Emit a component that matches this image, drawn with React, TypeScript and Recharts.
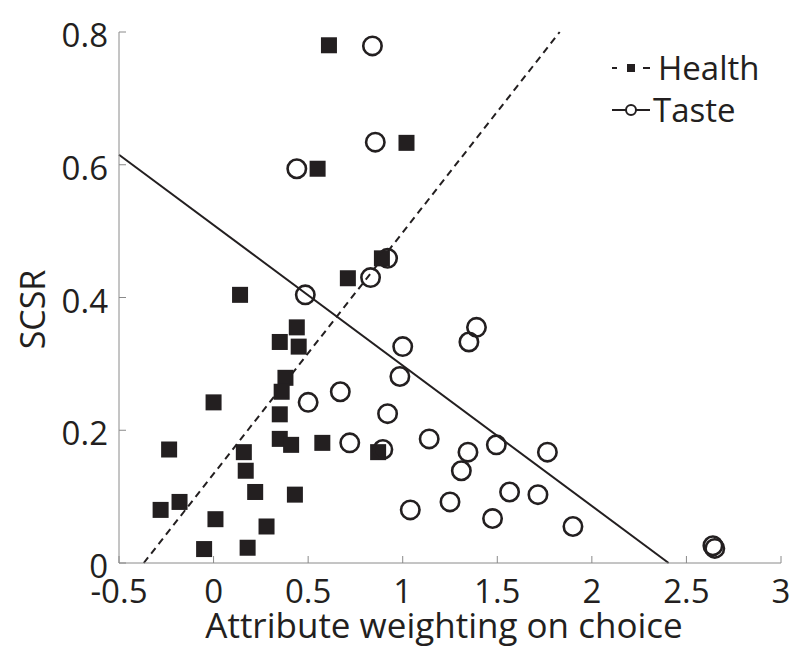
import React from 'react'
import {
  ScatterChart,
  Scatter,
  XAxis,
  YAxis,
  ReferenceLine,
  Legend,
} from 'recharts'

// values
const healthX = [0.61, 0.55, 1.02, 0.89, 0.71, 0.14, 0.44, 0.35, 0.45, 0.38, 0.36, 0.0, 0.35, -0.235, 0.35, 0.41, 0.575, 0.87, 0.16, 0.17, 0.22, 0.43, -0.18, -0.28, 0.01, 0.28, -0.05, 0.18]
const healthY = [0.78, 0.594, 0.633, 0.459, 0.429, 0.404, 0.355, 0.333, 0.326, 0.279, 0.258, 0.242, 0.224, 0.171, 0.187, 0.178, 0.181, 0.167, 0.167, 0.139, 0.107, 0.103, 0.092, 0.08, 0.066, 0.055, 0.021, 0.023]

const tasteX = [0.84, 0.855, 0.44, 0.92, 0.83, 0.485, 1.0, 1.39, 1.35, 0.985, 0.67, 0.5, 0.92, 1.14, 0.72, 0.895, 1.345, 1.495, 1.765, 1.31, 1.565, 1.715, 1.25, 1.04, 1.475, 1.9, 2.64, 2.65]
const tasteY = [0.779, 0.634, 0.594, 0.459, 0.43, 0.404, 0.326, 0.355, 0.333, 0.281, 0.258, 0.242, 0.225, 0.187, 0.181, 0.171, 0.167, 0.178, 0.167, 0.139, 0.107, 0.103, 0.092, 0.08, 0.067, 0.055, 0.026, 0.022]

// fitted lines, endpoints
const healthFitX = [-0.369, 1.83]
const healthFitY = [0, 0.8]
const tasteFitX = [-0.5, 2.406]
const tasteFitY = [0.615, 0]

const xTicks = [-0.5, 0, 0.5, 1, 1.5, 2, 2.5, 3]
const yTicks = [0, 0.2, 0.4, 0.6, 0.8]

const INK = '#231f20'
const AXIS = '#8a8a8a'
const FONT = '"Open Sans", sans-serif'

const healthData = healthX.map((x, i) => ({ x, y: healthY[i] }))
const tasteData = tasteX.map((x, i) => ({ x, y: tasteY[i] }))

const SquareDot = (props: any) => {
  const { cx, cy } = props
  return <rect x={cx - 8} y={cy - 8} width={16} height={16} fill={INK} />
}

const CircleDot = (props: any) => {
  const { cx, cy } = props
  return <circle cx={cx} cy={cy} r={9.2} fill="none" stroke={INK} strokeWidth={2.6} />
}

const XTick = ({ x, y, payload }: any) => (
  <g>
    <line x1={x} x2={x} y1={y} y2={y - 7} stroke={AXIS} />
    <text x={x} y={y + 40} textAnchor="middle" fontSize={33} fontFamily={FONT} fill={INK}>
      {String(payload.value)}
    </text>
  </g>
)

const YTick = ({ x, y, payload }: any) => (
  <g>
    <line x1={x} x2={x + 7} y1={y} y2={y} stroke={AXIS} />
    <text x={x - 11} y={y + 15} textAnchor="end" fontSize={33} fontFamily={FONT} fill={INK}>
      {String(payload.value)}
    </text>
  </g>
)

const YTitle = ({ viewBox }: any) => {
  const x = viewBox.x + 45
  const y = viewBox.y + viewBox.height / 2 + 12
  return (
    <text x={x} y={y} transform={`rotate(-90, ${x}, ${y})`} textAnchor="middle" fontSize={34} fontFamily={FONT} fill={INK}>
      SCSR
    </text>
  )
}

const renderLegend = () => (
  <svg width={190} height={100} style={{ display: 'block' }}>
    <line x1={7} x2={12} y1={28} y2={28} stroke={INK} strokeWidth={2} />
    <rect x={22} y={24} width={8} height={8} fill={INK} />
    <line x1={38} x2={45} y1={28} y2={28} stroke={INK} strokeWidth={2} />
    <text x={53} y={40} fontSize={33} fontFamily={FONT} fill={INK}>Health</text>
    <line x1={7} x2={45} y1={70} y2={70} stroke={INK} strokeWidth={2} />
    <circle cx={26} cy={70} r={5} fill="#fff" stroke={INK} strokeWidth={2} />
    <text x={48} y={82} fontSize={33} fontFamily={FONT} fill={INK}>Taste</text>
  </svg>
)

export default function App() {
  return (
    <div style={{ width: 800, height: 660, background: '#fff' }}>
      <style>{'body{margin:0}'}</style>
      <ScatterChart width={800} height={660} margin={{ top: 32, right: 19, bottom: 0, left: 0 }}>
        <XAxis
          type="number"
          dataKey="x"
          domain={[-0.5, 3]}
          ticks={xTicks}
          interval={0}
          height={97}
          tickSize={0}
          tickMargin={0}
          tickLine={false}
          axisLine={{ stroke: AXIS }}
          tick={<XTick />}
          label={{
            value: 'Attribute weighting on choice',
            position: 'insideBottom',
            offset: 22,
            dx: -6,
            fontSize: 35,
            fontFamily: FONT,
            fill: INK,
          }}
        />
        <YAxis
          type="number"
          dataKey="y"
          domain={[0, 0.8]}
          ticks={yTicks}
          interval={0}
          width={119}
          tickSize={0}
          tickMargin={0}
          tickLine={false}
          axisLine={{ stroke: AXIS }}
          tick={<YTick />}
          label={<YTitle />}
        />
        <Legend
          layout="horizontal"
          verticalAlign="middle"
          align="center"
          content={renderLegend}
          wrapperStyle={{ top: 40, left: 605, width: 190, height: 100 }}
        />
        <Scatter name="Health" data={healthData} shape={SquareDot} isAnimationActive={false} />
        <Scatter name="Taste" data={tasteData} shape={CircleDot} isAnimationActive={false} />
        <ReferenceLine
          segment={[
            { x: healthFitX[0], y: healthFitY[0] },
            { x: healthFitX[1], y: healthFitY[1] },
          ]}
          stroke={INK}
          strokeWidth={2}
          strokeDasharray="7 5"
        />
        <ReferenceLine
          segment={[
            { x: tasteFitX[0], y: tasteFitY[0] },
            { x: tasteFitX[1], y: tasteFitY[1] },
          ]}
          stroke={INK}
          strokeWidth={2}
        />
      </ScatterChart>
    </div>
  )
}
